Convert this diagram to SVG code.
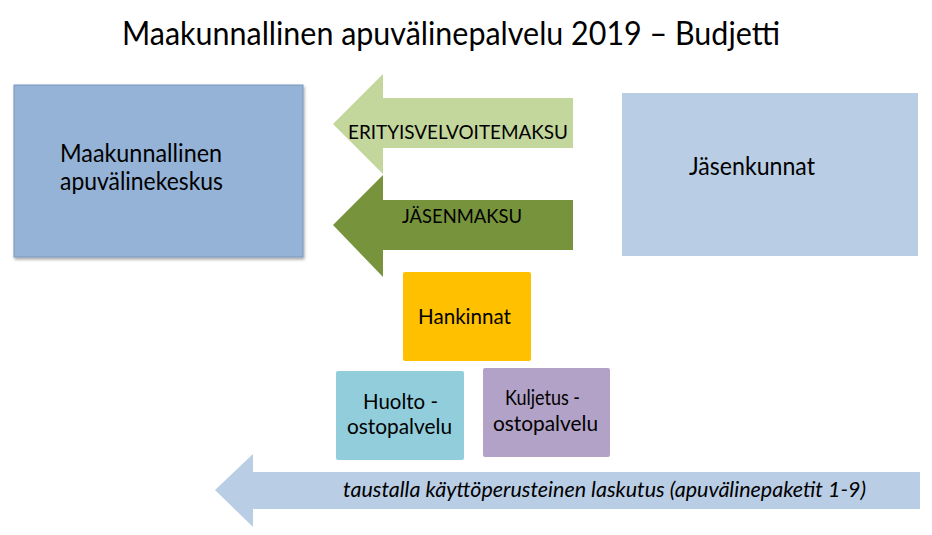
<svg xmlns="http://www.w3.org/2000/svg" width="932" height="535" viewBox="0 0 932 535">
  <defs>
    <filter id="shadow" x="-5%" y="-5%" width="112%" height="115%">
      <feDropShadow dx="1" dy="2" stdDeviation="1.5" flood-color="#000" flood-opacity="0.35"/>
    </filter>
  </defs>
  <style>
    text { font-family: Lato, "Open Sans", "Liberation Sans", sans-serif; fill: #000; }
    .title { font-size: 32px; }
    .big { font-size: 25px; }
    .mid { font-size: 22px; }
    .small { font-size: 20px; }
    .it { font-style: italic; font-size: 21px; }
  </style>
  <rect width="932" height="535" fill="#fff"/>

  <g id="title">
    <text class="title" x="122" y="45" textLength="658" lengthAdjust="spacingAndGlyphs">Maakunnallinen apuvälinepalvelu 2019 – Budjetti</text>
  </g>

  <g id="node-keskus">
    <rect x="14" y="85" width="289" height="172" fill="#95B3D7" stroke="#7896BE" stroke-width="1" filter="url(#shadow)"/>
    <text class="big" x="60" y="162" textLength="162" lengthAdjust="spacingAndGlyphs">Maakunnallinen</text>
    <text class="big" x="60" y="190" textLength="163" lengthAdjust="spacingAndGlyphs">apuvälinekeskus</text>
  </g>

  <g id="node-jasenkunnat">
    <rect x="622" y="93" width="296" height="163" fill="#B9CDE5"/>
    <text class="big" x="689" y="175" textLength="126" lengthAdjust="spacingAndGlyphs">Jäsenkunnat</text>
  </g>

  <g id="node-hankinnat">
    <rect x="403" y="272" width="128" height="89" rx="2" fill="#FFC000"/>
    <text class="mid" x="418" y="324" textLength="93" lengthAdjust="spacingAndGlyphs">Hankinnat</text>
  </g>

  <g id="node-huolto">
    <rect x="336" y="371" width="128" height="89" rx="2" fill="#92CDDC"/>
    <text class="mid" x="363" y="409" textLength="75" lengthAdjust="spacingAndGlyphs">Huolto -</text>
    <text class="mid" x="347" y="434" textLength="105" lengthAdjust="spacingAndGlyphs">ostopalvelu</text>
  </g>

  <g id="node-kuljetus">
    <rect x="483" y="368" width="127" height="89" rx="2" fill="#B3A2C7"/>
    <text class="mid" x="505" y="405" textLength="75" lengthAdjust="spacingAndGlyphs">Kuljetus -</text>
    <text class="mid" x="493" y="431" textLength="105" lengthAdjust="spacingAndGlyphs">ostopalvelu</text>
  </g>

  <g id="connectors">
    <g id="arrow-erityisvelvoitemaksu">
      <polygon points="333,124 383,74 383,98 573,98 573,148 383,148 383,174" fill="#C3D69B"/>
      <text class="small" x="348" y="139" textLength="220" lengthAdjust="spacingAndGlyphs">ERITYISVELVOITEMAKSU</text>
    </g>
    <g id="arrow-jasenmaksu">
      <polygon points="333,225 383,175 383,200 573,200 573,250 383,250 383,277" fill="#77933C"/>
      <text class="small" x="402" y="223" textLength="120" lengthAdjust="spacingAndGlyphs">JÄSENMAKSU</text>
    </g>
    <g id="arrow-laskutus">
      <polygon points="215,490 253,454 253,472 920,472 920,509 253,509 253,527" fill="#B9CDE5"/>
      <text class="it" x="343" y="497" textLength="523" lengthAdjust="spacingAndGlyphs">taustalla käyttöperusteinen laskutus (apuvälinepaketit 1-9)</text>
    </g>
  </g>
</svg>
